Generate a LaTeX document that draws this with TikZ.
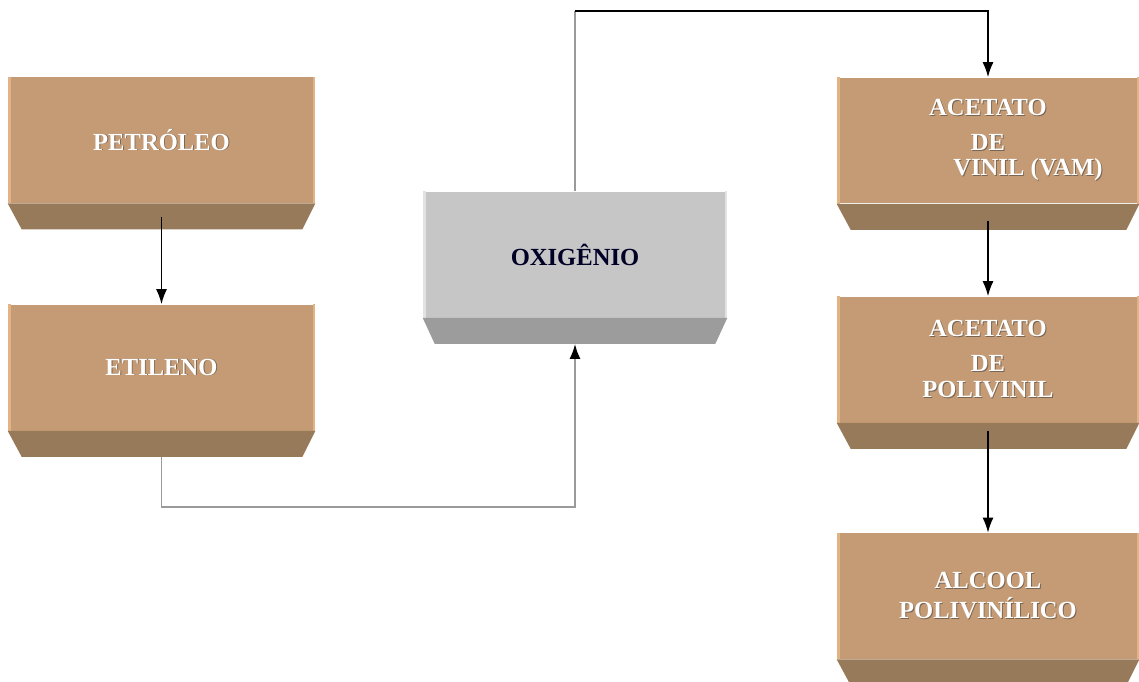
\documentclass[tikz,border=0pt]{standalone}
\usepackage{fontspec}
\setmainfont{Liberation Serif}
\usetikzlibrary{arrows.meta}

\definecolor{marrom}{HTML}{C49B74}
\definecolor{marromesc}{HTML}{977A5A}
\definecolor{marromclaro}{HTML}{E2B485}
\definecolor{cinzafrente}{HTML}{C6C6C6}
\definecolor{cinzaesc}{HTML}{9C9C9C}
\definecolor{cinzaclaro}{HTML}{E2E2E2}
\definecolor{linhacinza}{HTML}{9A9A9A}
\definecolor{sombra}{HTML}{7A6552}

% white lettering with a small dark shadow
\newcommand{\txt}[1]{\makebox[0pt][l]{\kern0.5pt\raisebox{-0.5pt}{\color{sombra}#1}}#1}

\begin{document}
\begin{tikzpicture}[x=0.02cm,y=-0.02cm,
    bloco/.style={rectangle,fill=marrom,minimum width=6.14cm,minimum height=2.52cm,
        inner sep=0pt,text=white,align=center,font=\fontsize{14}{17}\selectfont\bfseries},
    blocodir/.style={bloco,minimum width=6.04cm},
    blococinza/.style={bloco,fill=cinzafrente,minimum width=6.08cm,text={black!85!blue}},
    seta/.style={draw=black,line width=0.9pt,-{Latex[length=0.3cm,width=0.22cm]}},
    setacinza/.style={draw=linhacinza,line width=1.1pt,-{Latex[length=0.3cm,width=0.22cm,color=black]}}]
\useasboundingbox (0,0) rectangle (1139,681);

% left column
\node[bloco] (petroleo) at (161.5,140) {\txt{PETRÓLEO}};
\node[bloco] (etileno) at (161.5,367.5) {\txt{ETILENO}};

% middle
\node[blococinza] (oxigenio) at (575,254.5) {OXIGÊNIO};

% right column
\node[blocodir] (vam) at (988,140.5)
    {\txt{ACETATO}\\[3pt]\txt{DE}\\[-2.5pt]\hspace*{1.6cm}\txt{VINIL (VAM)}};
\node[blocodir] (pvac) at (988,359.5)
    {\txt{ACETATO}\\[3pt]\txt{DE}\\[-2.5pt]\txt{POLIVINIL}};
\node[blocodir] (pva) at (988,596)
    {\txt{ALCOOL}\\\txt{POLIVINÍLICO}};

% light edges and bottom bevels
\foreach \n in {petroleo,etileno,vam,pvac,pva} {
    \fill[marromclaro] (\n.north west) rectangle ([xshift=0.07cm]\n.south west);
    \fill[marromclaro] ([xshift=-0.05cm]\n.north east) rectangle (\n.south east);
    \fill[marromesc] (\n.south west) -- (\n.south east) -- ++(-0.26cm,-0.52cm)
        -- ([shift={(0.28cm,-0.52cm)}]\n.south west) -- cycle;
}
\fill[cinzaclaro] (oxigenio.north west) rectangle ([xshift=0.07cm]oxigenio.south west);
\fill[cinzaclaro] ([xshift=-0.05cm]oxigenio.north east) rectangle (oxigenio.south east);
\fill[cinzaesc] (oxigenio.south west) -- (oxigenio.south east) -- ++(-0.24cm,-0.52cm)
    -- ([shift={(0.24cm,-0.52cm)}]oxigenio.south west) -- cycle;

% connections
\draw[seta] ([yshift=-0.28cm]petroleo.south) -- (etileno.north);
\draw[setacinza] ([yshift=-0.52cm]etileno.south) -- ++(0,-1cm) -| ([yshift=-0.52cm]oxigenio.south);
\draw[linhacinza,line width=1.1pt] (oxigenio.north) -- ++(0,3.6cm) coordinate (topo);
\draw[seta] (topo) -| (vam.north);
\draw[seta] ([yshift=-0.34cm]vam.south) -- (pvac.north);
\draw[seta] ([yshift=-0.16cm]pvac.south) -- (pva.north);
\end{tikzpicture}
\end{document}
